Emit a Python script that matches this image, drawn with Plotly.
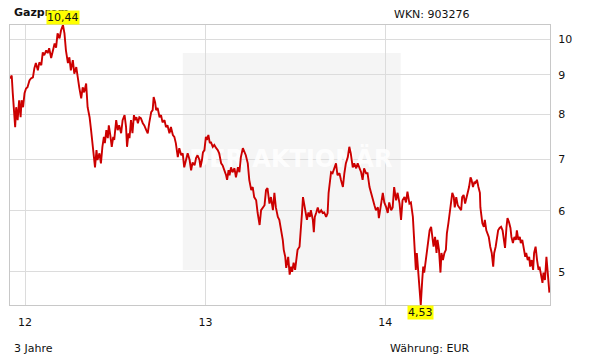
import numpy as np
import pandas as pd
import plotly.graph_objects as go

# ---------------- data ----------------
title_text = "Gazprom"
wkn_text = "WKN: 903276"
period_text = "3 Jahre"
currency_text = "Währung: EUR"
watermark_text = "DER AKTIONÄR"

start_date = pd.Timestamp("2012-01-01")

days_1 = [-30, -27, -25, -23, -20, -18, -15, -12, -9, -7, -4, -1, 2, 5, 9, 12, 16, 19, 22, 26,
          29, 33, 36, 39, 43, 46, 49, 53, 56, 60, 63, 66, 70, 73, 77, 80, 83, 87, 90, 93,
          97, 100, 104, 107, 110, 114, 117, 120, 124, 127, 131, 134, 137, 139, 142, 145, 147]
price_1 = [8.90, 8.98, 8.54, 8.27, 7.70, 8.17, 7.86, 8.34, 7.93, 8.34, 8.17, 8.52, 8.64, 8.67, 8.85,
           8.90, 8.93, 9.18, 9.32, 9.12, 9.34, 9.26, 9.62, 9.54, 9.68, 9.60, 9.74, 9.46, 9.68, 9.88,
           9.76, 10.18, 10.03, 10.27, 10.44, 10.18, 9.68, 9.32, 9.48, 9.12, 9.40, 9.03, 9.21, 8.85, 8.67,
           8.39, 8.67, 8.54, 8.77, 8.17, 7.93, 7.63, 7.34, 7.04, 6.83, 7.19, 6.98]

days_2 = [151, 154, 157, 160, 162, 165, 168, 170, 173, 176, 179, 181, 185, 188, 191, 195, 198, 202,
          205, 207, 210, 212, 215, 218, 221, 223, 226, 229, 232, 235, 239, 242, 246, 249, 252, 256,
          259, 261, 264, 266, 269, 273, 276, 279, 283, 286, 289, 293, 296, 300, 303, 306, 310, 313,
          317, 320, 323, 327]
price_2 = [7.12, 6.91, 7.26, 7.48, 7.34, 7.63, 7.45, 7.74, 7.52, 7.26, 7.48, 7.41, 7.86, 7.63, 7.74,
           7.56, 7.86, 7.98, 7.70, 7.26, 7.56, 7.45, 7.86, 7.56, 7.98, 7.86, 7.93, 7.79, 7.93, 7.91,
           7.79, 7.74, 7.63, 7.56, 7.79, 8.05, 8.10, 8.42, 8.29, 8.10, 8.15, 7.93, 7.98, 7.81, 7.86,
           7.70, 7.74, 7.56, 7.70, 7.52, 7.48, 7.34, 7.04, 7.23, 7.08, 7.12, 6.83, 7.02]

days_3 = [330, 334, 337, 340, 344, 347, 350, 354, 356, 359, 361, 364, 367, 369, 372, 375, 377, 381,
          384, 388, 391, 394, 398, 401, 405, 408, 410, 413, 415, 418, 421, 425, 428, 432, 435, 438,
          442, 445, 448, 452, 455, 459, 462, 465, 469, 472, 476, 479, 482, 486, 489, 492, 496, 499,
          503, 506, 509]
price_3 = [7.12, 6.98, 6.77, 6.93, 6.87, 7.02, 7.08, 6.98, 6.83, 6.98, 7.14, 7.19, 7.48, 7.41, 7.52,
           7.34, 7.37, 7.26, 7.30, 7.23, 7.19, 7.12, 6.91, 6.87, 6.77, 6.67, 6.58, 6.77, 6.67, 6.83,
           6.73, 6.81, 6.63, 6.83, 6.73, 7.04, 7.23, 7.14, 7.08, 6.91, 6.58, 6.38, 6.44, 6.25, 6.19,
           5.96, 5.75, 6.01, 6.06, 6.10, 6.38, 6.42, 6.13, 6.25, 6.01, 6.33, 6.06]

days_4 = [513, 516, 519, 523, 525, 528, 530, 532, 534, 537, 540, 542, 545, 548, 551, 553, 557, 560,
          562, 564, 567, 570, 572, 575, 578, 580, 584, 586, 588, 591, 594, 597, 601, 604, 607, 611,
          614, 616, 619, 621, 624, 628, 631, 634, 638, 641, 645, 648, 651, 655, 658, 661, 665, 668,
          672, 675, 678, 682, 685, 688, 692]
price_4 = [5.89, 5.84, 5.70, 5.50, 5.34, 5.23, 5.06, 5.18, 5.23, 4.96, 5.08, 5.00, 5.14, 5.03, 5.29,
           5.34, 5.39, 5.66, 5.96, 6.25, 6.10, 5.97, 5.84, 5.97, 5.89, 6.01, 5.84, 5.63, 5.89, 5.97,
           6.06, 5.96, 6.01, 5.96, 5.97, 5.89, 5.96, 6.33, 6.63, 6.73, 6.71, 6.83, 6.91, 6.67, 6.71,
           6.58, 6.44, 6.71, 6.91, 7.04, 7.26, 7.12, 6.83, 6.91, 6.81, 6.91, 6.83, 6.73, 6.58, 6.81,
           6.71]

days_5 = [695, 699, 702, 705, 709, 712, 716, 718, 720, 723, 726, 729, 733, 736, 739, 743, 746, 749,
          753, 756, 760, 763, 766, 770, 773, 776, 780, 783, 787, 789, 791, 793, 795, 797, 799, 801,
          803, 806, 808, 810, 813, 816, 818, 821, 824, 826, 829, 832, 835, 837, 840, 843, 845, 848,
          851, 854, 856, 859, 862, 864, 867, 870, 872, 875]
price_5 = [6.71, 6.44, 6.33, 6.19, 6.10, 6.01, 6.06, 5.87, 6.01, 6.15, 6.33, 6.15, 6.06, 5.96, 6.15,
           6.01, 6.06, 6.44, 6.19, 6.33, 6.13, 5.84, 6.19, 6.25, 6.15, 6.35, 6.13, 6.15, 5.89, 5.61,
           5.29, 5.03, 5.29, 5.08, 4.88, 4.70, 4.53, 4.88, 5.08, 4.99, 5.18, 5.34, 5.50, 5.66, 5.72,
           5.55, 5.39, 5.55, 5.29, 5.50, 5.34, 4.99, 5.29, 5.18, 5.29, 5.34, 5.61, 5.78, 5.97, 6.19,
           6.33, 6.25, 6.06, 6.25]

days_6 = [878, 881, 885, 887, 890, 893, 896, 898, 901, 904, 906, 909, 912, 914, 917, 920, 923, 924,
          925, 928, 931, 933, 936, 939, 941, 944, 947, 950, 952, 955, 958, 960, 963, 966, 969, 971,
          974, 977, 979, 982, 985, 987, 990, 993, 996, 998, 1001, 1004, 1006, 1009, 1012, 1015, 1017,
          1020, 1023, 1025, 1028, 1031, 1033, 1036, 1039, 1042, 1044, 1047, 1050, 1052, 1055, 1058,
          1060, 1062, 1064]
price_6 = [6.10, 6.06, 6.01, 6.25, 6.29, 6.13, 6.23, 6.33, 6.44, 6.63, 6.58, 6.44, 6.54, 6.52, 6.58,
           6.44, 6.33, 6.06, 5.97, 5.78, 5.72, 5.84, 5.66, 5.61, 5.55, 5.39, 5.29, 5.08, 5.29, 5.39,
           5.55, 5.66, 5.70, 5.72, 5.66, 5.50, 5.37, 5.72, 5.87, 5.80, 5.70, 5.55, 5.45, 5.55, 5.50,
           5.66, 5.50, 5.55, 5.45, 5.50, 5.34, 5.23, 5.29, 5.18, 5.23, 5.08, 5.18, 5.03, 5.29, 5.39,
           5.18, 5.03, 5.08, 4.93, 4.84, 4.99, 4.88, 5.23, 5.08, 4.84, 4.70]

year_ticks = ["2012-01-01", "2013-01-01", "2014-01-01"]
year_labels = ["12", "13", "14"]
price_ticks = [5, 6, 7, 8, 9, 10]
x_range = ["2011-12-01 12:00", "2014-12-01 06:00"]

# ---------------- assemble ----------------
days = days_1 + days_2 + days_3 + days_4 + days_5 + days_6
prices = np.array(price_1 + price_2 + price_3 + price_4 + price_5 + price_6)
dates = start_date + pd.to_timedelta(days, unit="D")

i_max = int(np.argmax(prices))
i_min = int(np.argmin(prices))
p_max = prices[i_max]
p_min = prices[i_min]
log_lo, log_hi = np.log10(p_min), np.log10(p_max)


def de_fmt(v):
    return f"{v:.2f}".replace(".", ",")


RED = "#cc0000"
GRID = "#dcdcdc"
BORDER = "#c8c8c8"
TXT = "#111111"
FONT = "DejaVu Sans"

# watermark anchor derived from the axis ranges (fractions of the plot area)
t0, t1 = pd.Timestamp(x_range[0]), pd.Timestamp(x_range[1])
wm_x = t0 + (t1 - t0) * 0.52
wm_y = 10 ** (log_lo + (log_hi - log_lo) * 0.515)

fig = go.Figure()
# watermark text (drawn first so the price line passes over it)
fig.add_trace(go.Scatter(x=[wm_x], y=[wm_y], mode="text", text=["<b>" + watermark_text + "</b>"],
                         textposition="middle center",
                         textfont=dict(family=FONT, size=24, color="rgba(255,255,255,0.9)"),
                         hoverinfo="skip", cliponaxis=False))
fig.add_trace(go.Scatter(x=dates, y=prices, mode="lines",
                         line=dict(color=RED, width=1.9), hoverinfo="skip"))

fig.update_layout(
    width=611, height=364,
    margin=dict(l=10, r=61, t=25, b=59),
    paper_bgcolor="white", plot_bgcolor="rgba(0,0,0,0)",
    showlegend=False,
    font=dict(family=FONT, size=11, color=TXT),
)

fig.update_xaxes(
    type="date", range=x_range,
    tickmode="array", tickvals=year_ticks, ticktext=year_labels,
    showgrid=True, gridcolor=GRID, gridwidth=1,
    showline=True, linecolor=BORDER, linewidth=1, mirror=True,
    ticks="", ticklabelstandoff=7, zeroline=False,
    tickfont=dict(family=FONT, size=11, color=TXT),
)
fig.update_yaxes(
    type="log", range=[log_lo, log_hi], side="right",
    tickmode="array", tickvals=price_ticks, ticktext=[str(v) for v in price_ticks],
    showgrid=True, gridcolor=GRID, gridwidth=1,
    showline=True, linecolor=BORDER, linewidth=1, mirror=True,
    ticks="", ticklabelstandoff=5, zeroline=False,
    tickfont=dict(family=FONT, size=11, color=TXT),
)

# watermark box
fig.add_shape(type="rect", xref="x domain", yref="y domain",
              x0=0.32, x1=0.7235, y0=0.125, y1=0.9,
              fillcolor="#f5f5f5", line=dict(width=0), layer="below")

annotations = [
    dict(xref="paper", yref="paper", x=0.0037, y=1.0446, xanchor="left", yanchor="middle",
         text="<b>" + title_text + "</b>", showarrow=False,
         font=dict(family=FONT, size=11, color=TXT)),
    dict(xref="paper", yref="paper", x=0.7074, y=1.0375, xanchor="left", yanchor="middle",
         text=wkn_text, showarrow=False, font=dict(family=FONT, size=11, color=TXT)),
    dict(xref="paper", yref="paper", x=0.0037, y=-0.1536, xanchor="left", yanchor="middle",
         text=period_text, showarrow=False, font=dict(family=FONT, size=11, color=TXT)),
    dict(xref="paper", yref="paper", x=0.70, y=-0.1536, xanchor="left", yanchor="middle",
         text=currency_text, showarrow=False, font=dict(family=FONT, size=11, color=TXT)),
    dict(xref="x", yref="y", x=dates[i_max], y=log_hi, xanchor="center",
         yanchor="bottom", text=de_fmt(p_max), showarrow=False, bgcolor="#ffff00",
         borderpad=0, font=dict(family=FONT, size=11, color=TXT)),
    dict(xref="x", yref="y", x=dates[i_min], y=log_lo, xanchor="center",
         yanchor="top", text=de_fmt(p_min), showarrow=False, bgcolor="#ffff00",
         borderpad=0, font=dict(family=FONT, size=11, color=TXT)),
]
fig.update_layout(annotations=annotations)

fig.write_html("out.html")
